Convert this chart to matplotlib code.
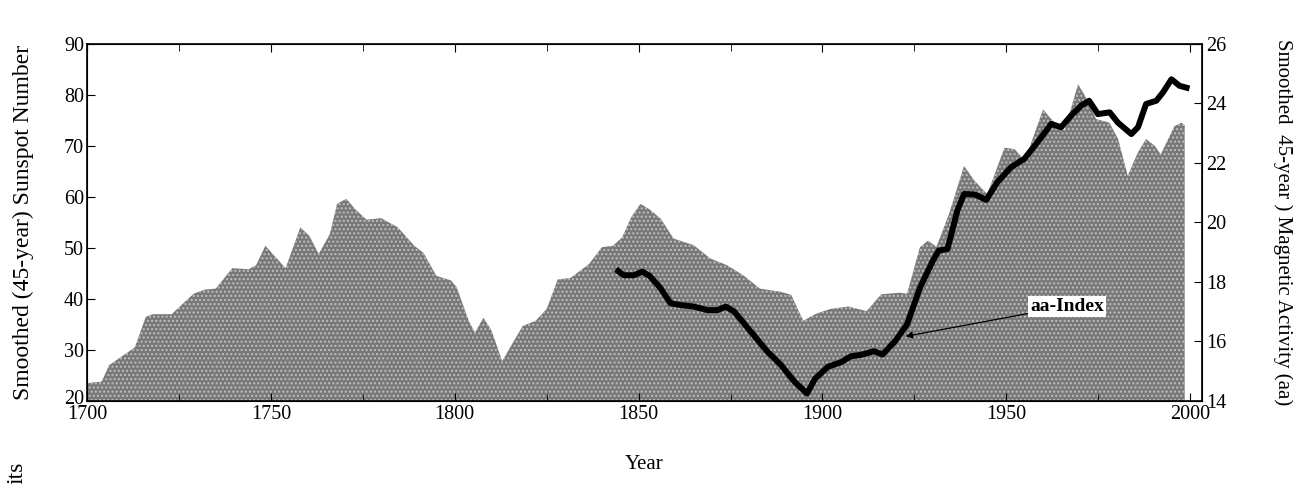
import matplotlib
matplotlib.use("Agg")
import matplotlib.pyplot as plt
import matplotlib.transforms as mtransforms
import numpy as np

plt.rcParams['font.family'] = 'serif'
plt.rcParams['font.serif'] = ['Liberation Serif', 'DejaVu Serif']
plt.rcParams['hatch.linewidth'] = 1.0

# smoothed (45-year) sunspot number
ss_year = [1700, 1704, 1706, 1710, 1713, 1716, 1718, 1723, 1729, 1732, 1735,
           1739.5, 1744, 1746, 1748.5, 1750.5, 1754, 1758, 1760.5, 1763, 1766,
           1768, 1770.5, 1773, 1776, 1780, 1784.5, 1789, 1791.5, 1795, 1799,
           1800.5, 1803.8, 1805.5, 1807.8, 1810, 1812.9, 1815, 1818.5, 1822,
           1825, 1828, 1831.5, 1836.5, 1840, 1843, 1845.5, 1848, 1850.5, 1853,
           1856, 1859.5, 1865, 1869.5, 1874, 1878.5, 1883, 1888.5, 1891.5,
           1893.2, 1894.8, 1898, 1902, 1907, 1912, 1916, 1921, 1923, 1926.5,
           1928.7, 1931, 1934.4, 1938.5, 1941.5, 1944.8, 1949.5, 1952.3, 1955,
           1960, 1962.2, 1965.8, 1969.5, 1971.2, 1974.4, 1978, 1980.4, 1983,
           1985.8, 1988, 1990.3, 1992, 1995.7, 1997.6, 1998.5]
ss_val = [23.5, 23.8, 27.0, 29.0, 30.5, 36.5, 37.0, 37.0, 41.0, 41.8, 42.0,
          46.0, 45.8, 46.6, 50.4, 48.8, 46.0, 54.0, 52.3, 48.8, 52.6,
          58.6, 59.6, 57.5, 55.5, 55.8, 54.0, 50.4, 49.0, 44.5, 43.6,
          42.3, 35.7, 33.4, 36.3, 33.8, 27.8, 30.4, 34.7, 35.7,
          38.0, 43.8, 44.1, 46.8, 50.1, 50.4, 52.0, 56.0, 58.6, 57.5,
          55.7, 51.8, 50.5, 47.9, 46.6, 44.6, 42.0, 41.4, 40.8,
          38.1, 35.7, 37.0, 38.0, 38.5, 37.6, 40.9, 41.2, 41.0, 50.1,
          51.4, 50.2, 56.6, 66.0, 63.0, 60.5, 69.6, 69.3, 67.0,
          77.1, 75.2, 72.9, 82.0, 80.0, 75.2, 74.5, 71.3, 64.1,
          68.7, 71.3, 70.0, 68.3, 73.8, 74.5, 74.0]

# smoothed 45-year aa index
aa_year = [1843.8, 1846, 1848.7, 1851, 1853, 1856, 1858.7, 1861.5, 1865,
           1868.7, 1871.5, 1873.7, 1876, 1880.5, 1885, 1888.7, 1892.3, 1895.8,
           1898, 1901.5, 1905, 1907.7, 1910.5, 1914, 1916.3, 1919.7, 1923,
           1926.5, 1930, 1931.6, 1934, 1936.7, 1938.5, 1941.5, 1944.5, 1947.6,
           1951.3, 1954.9, 1958.5, 1962.2, 1964.9, 1967.6, 1970.3, 1972.5,
           1974.9, 1978.1, 1980.3, 1984, 1985.8, 1988, 1990.8, 1992.6, 1994.9,
           1997.1, 1999.8]
aa_val = [18.42, 18.22, 18.22, 18.34, 18.2, 17.78, 17.28, 17.22, 17.17,
          17.05, 17.05, 17.17, 17.0, 16.33, 15.66, 15.21, 14.66, 14.25,
          14.75, 15.15, 15.3, 15.5, 15.55, 15.67, 15.56, 16.0, 16.57,
          17.8, 18.7, 19.05, 19.1, 20.4, 20.95, 20.93, 20.75, 21.35,
          21.85, 22.13, 22.69, 23.3, 23.19, 23.58, 23.91, 24.08,
          23.63, 23.69, 23.35, 22.96, 23.19, 23.97, 24.08, 24.36, 24.8,
          24.58, 24.49]

fig = plt.figure(figsize=(12.93, 4.84), dpi=100)
ax = fig.add_axes([0.0673, 0.1715, 0.8623, 0.7386])

ax.fill_between(ss_year, ss_val, 20, facecolor='#787878', edgecolor='#c0c0c0',
                hatch='....', linewidth=0)
ax.set_xlim(1700, 2003.2)
ax.set_ylim(20, 90)
ax.set_xticks(np.arange(1700, 2001, 50))
ax.set_xticks(np.arange(1725, 2001, 50), minor=True)
ax.set_yticks(np.arange(20, 91, 10))
ax.tick_params(which='both', direction='in', top=True, labelsize=14.5, pad=3)
ax.tick_params(which='major', length=6)
ax.tick_params(which='minor', length=5)
ax.tick_params(axis='y', right=False, pad=2)
# "20" sits a little higher, as in the original
lab20 = ax.get_yticklabels()[0]
lab20.set_transform(lab20.get_transform() +
                    mtransforms.ScaledTranslation(0, 4 / 100, fig.dpi_scale_trans))
ax.set_ylabel('Smoothed (45-year) Sunspot Number', fontsize=17, labelpad=22)
ax.set_xlabel('Year', fontsize=15, labelpad=22)

ax2 = ax.twinx()
ax2.plot(aa_year, aa_val, color='black', lw=4.3, solid_capstyle='butt')
ax2.set_ylim(14, 26)
ax2.set_yticks(np.arange(14, 27, 2))
ax2.tick_params(direction='in', length=6, labelsize=14.5, pad=3)
ax2.set_ylabel('Smoothed  45-year ) Magnetic Activity (aa)', fontsize=15,
               rotation=270, labelpad=48)

ax2.annotate('aa-Index', xy=(1922.6, 16.17), xytext=(1966.5, 17.18),
             fontsize=14, fontweight='bold', ha='center', va='center',
             bbox=dict(boxstyle='square,pad=0.1', fc='white', ec='none'),
             arrowprops=dict(arrowstyle='-|>', color='black', lw=0.9,
                             mutation_scale=10, shrinkA=0, shrinkB=0))

for sp in ax.spines.values():
    sp.set_linewidth(1.2)

fig.text(0.013, 0.0, 'its', rotation=90, ha='center', va='bottom', fontsize=17)

fig.savefig('out.png', dpi=100)
